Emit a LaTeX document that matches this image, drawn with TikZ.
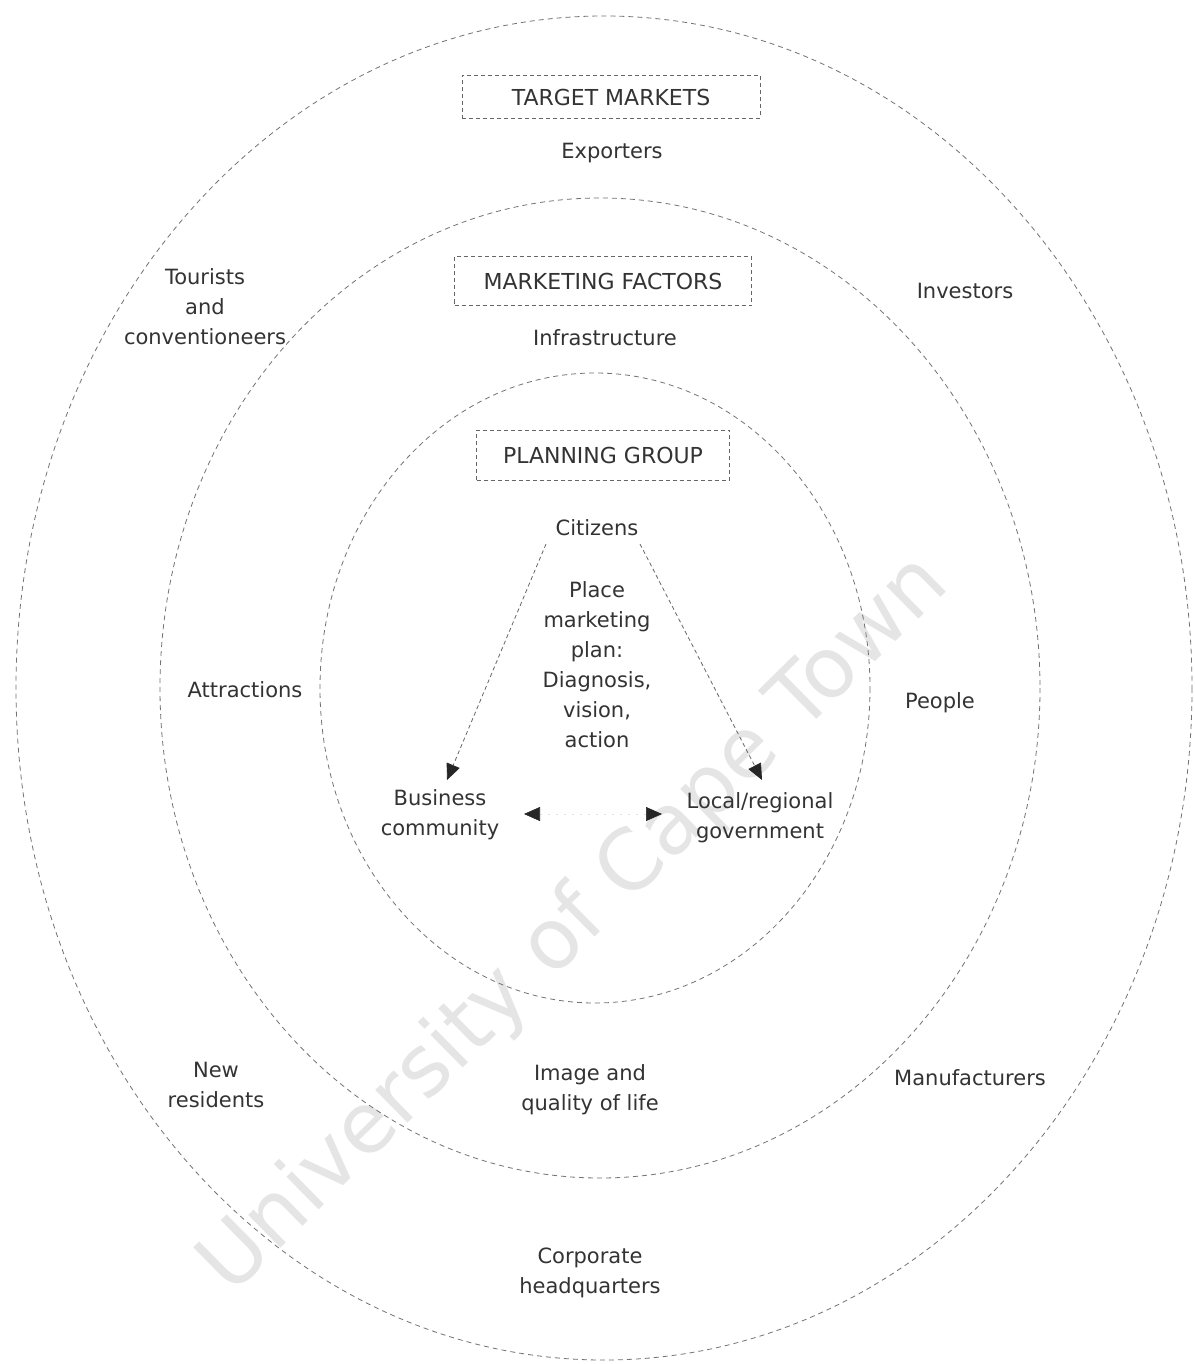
\documentclass[tikz,border=0pt]{standalone}
\usepackage{fontspec}
\setmainfont{DejaVu Sans}
\usetikzlibrary{arrows.meta}
\begin{document}
\begin{tikzpicture}[x=1pt,y=-1pt,
  ring/.style={draw=black!55, line width=0.8pt, dash pattern=on 5pt off 4pt},
  label/.style={font=\fontsize{21}{30}\selectfont, text=black!80, align=center, inner sep=2pt},
  title/.style={draw=black!60, line width=0.8pt, dash pattern=on 4pt off 3pt, font=\fontsize{22}{28}\selectfont, text=black!80, inner sep=0pt},
  tip/.tip={Triangle[length=16pt,width=14pt,color=black!85]},
  link/.style={draw=black!60, line width=0.8pt, dash pattern=on 4pt off 3pt, -tip}
]
\useasboundingbox (0,0) rectangle (1194,1364);
\fill[white] (0,0) rectangle (1194,1364);

% watermark
\node[rotate=44.6, text=black!10, font=\fontsize{84}{84}\selectfont] (wm) at (575,925) {University of Cape Town};

% concentric rings
\draw[ring] (604,688) ellipse [x radius=588, y radius=672];
\draw[ring] (600,688) ellipse [x radius=440, y radius=490];
\draw[ring] (595,688) ellipse [x radius=275, y radius=315];

% ring titles
\node[title, minimum width=298pt, minimum height=43pt] (tm) at (611,97) {TARGET MARKETS};
\node[title, minimum width=297pt, minimum height=49pt] (mf) at (603,281) {MARKETING FACTORS};
\node[title, minimum width=253pt, minimum height=50pt] (pg) at (603,455) {PLANNING GROUP};

% outer ring: target markets
\node[label] (exp) at (612,153) {Exporters};
\node[label] (tour) at (205,307) {Tourists\\and\\conventioneers};
\node[label] (inv) at (965,291) {Investors};
\node[label] (newres) at (216,1085) {New\\residents};
\node[label] (manu) at (970,1078) {Manufacturers};
\node[label] (corp) at (590,1273) {Corporate\\headquarters};

% middle ring: marketing factors
\node[label] (infra) at (605,338) {Infrastructure};
\node[label] (attr) at (245,690) {Attractions};
\node[label] (peop) at (940,703) {People};
\node[label] (img) at (590,1090) {Image and\\quality of life};

% inner ring: planning group
\node[label] (cit) at (597,528) {Citizens};
\node[label] (plan) at (597,665) {Place\\marketing\\plan:\\Diagnosis,\\vision,\\action};
\node[label] (bus) at (440,815) {Business\\community};
\node[label] (gov) at (760,818) {Local/regional\\government};

\coordinate (cl) at (546,544);
\coordinate (cr) at (640,544);
\coordinate (bl) at (447,780);
\coordinate (gr) at (762,780);
\coordinate (ml) at (524,814);
\coordinate (mr) at (662,814);

\draw[link] (cl) -- (bl);
\draw[link] (cr) -- (gr);
\draw[draw=black!12, line width=0.6pt, dash pattern=on 2pt off 6pt, tip-tip] (ml) -- (mr);
\end{tikzpicture}
\end{document}
